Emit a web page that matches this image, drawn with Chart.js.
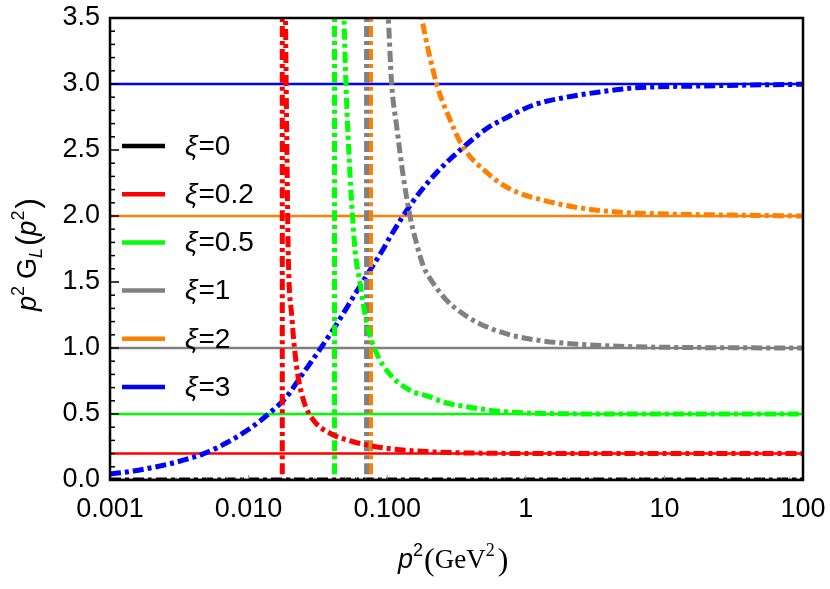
<!DOCTYPE html>
<html lang="en">
<head>
<meta charset="UTF-8">
<title>p2 GL(p2)</title>
<script src="https://cdn.jsdelivr.net/npm/chart.js"></script>
<style>
    html, body { margin: 0; padding: 0; background: #fff; }
    #wrap { width: 830px; height: 589px; }
</style>
</head>
<body>
<div id="wrap"><canvas id="chart" width="830" height="589"></canvas></div>
<script>
// gauge parameter values (asymptotes and legend)
const xiValues = [0, 0.2, 0.5, 1, 2, 3];
const xiLabels = ['0', '0.2', '0.5', '1', '2', '3'];
const xiColors = ['#000000', '#ff0000', '#00ff00', '#808080', '#ff8000', '#0000ff'];

const xTicks = [0.001, 0.01, 0.1, 1, 10, 100];
const xTickLabels = ['0.001', '0.010', '0.100', '1', '10', '100'];

// dash-dot curves: p^2 (GeV^2) against p^2 G_L
const zeroX = [0.001, 100];
const zeroY = [0, 0];

const redX = [0.0175, 0.0175, 0.01846, 0.0189, 0.0193, 0.0205, 0.0222, 0.0248, 0.0293, 0.0387, 0.0569, 0.0991, 0.193, 0.652, 3, 100];
const redY = [-1, 6, 3.5, 2.5, 1.74, 1.24, 0.86, 0.61, 0.455, 0.354, 0.29, 0.24, 0.215, 0.202, 0.2, 0.2];

const greenX = [0.0417, 0.0417, 0.0488, 0.0504, 0.054, 0.0562, 0.0586, 0.0637, 0.0711, 0.0839, 0.1047, 0.146, 0.204, 0.254, 0.375, 0.652, 1.5, 5, 100];
const greenY = [-1, 6, 3.5, 3.0, 2.3, 2.0, 1.74, 1.49, 1.19, 0.96, 0.8, 0.68, 0.63, 0.59, 0.555, 0.52, 0.503, 0.5, 0.5];

const grayX = [0.071, 0.071, 0.1018, 0.1077, 0.117, 0.1306, 0.146, 0.163, 0.1824, 0.215, 0.269, 0.375, 0.522, 0.769, 1.2, 1.97, 5.95, 18.1, 100];
const grayY = [-1, 6, 3.5, 3.0, 2.68, 2.30, 2.0, 1.79, 1.62, 1.49, 1.36, 1.24, 1.16, 1.10, 1.06, 1.035, 1.01, 1.003, 1.0];

const orangeX = [0.0758, 0.0758, 0.1775, 0.2276, 0.284, 0.354, 0.536, 0.652, 0.864, 1.33, 2.19, 4.55, 10.4, 31.3, 100];
const orangeY = [-1, 6, 3.5, 3.0, 2.73, 2.52, 2.32, 2.25, 2.18, 2.12, 2.07, 2.03, 2.015, 2.007, 2.0];

const blueX = [0.001, 0.00147, 0.0023, 0.00338, 0.00471, 0.00695, 0.0102, 0.01426, 0.0188, 0.0235, 0.0408, 0.0637, 0.0752, 0.0937, 0.1047, 0.1535, 0.2276, 0.354, 0.552, 0.652, 1.13, 1.97, 3.43, 5.97, 18.1, 60.8, 100];
const blueY = [0.045, 0.068, 0.106, 0.15, 0.198, 0.282, 0.39, 0.51, 0.63, 0.775, 1.14, 1.47, 1.59, 1.75, 1.84, 2.11, 2.33, 2.52, 2.68, 2.72, 2.84, 2.9, 2.94, 2.97, 2.985, 2.995, 2.998];

const curveX = [zeroX, redX, greenX, grayX, orangeX, blueX];
const curveY = [zeroY, redY, greenY, grayY, orangeY, blueY];

const SANS = '"Liberation Sans", Arial, sans-serif';
const SERIF = '"Liberation Serif", "Times New Roman", serif';

function pairs(xs, ys) {
    return xs.map((x, i) => ({ x: x, y: ys[i] }));
}

const datasets = [];
// dashed curves first in the list so they sit on top
curveX.forEach((xs, i) => {
    datasets.push({
        data: pairs(xs, curveY[i]),
        borderColor: xiColors[i],
        borderWidth: 5,
        borderDash: [11, 4, 4, 4],
        borderCapStyle: 'butt',
        pointRadius: 0,
        showLine: true,
        cubicInterpolationMode: 'monotone',
        clip: 0
    });
});
xiValues.forEach((v, i) => {
    datasets.push({
        data: pairs([0.001, 100], [v, v]),
        borderColor: xiColors[i],
        borderWidth: 2.5,
        pointRadius: 0,
        showLine: true,
        tension: 0
    });
});

function drawRich(ctx, parts, x, y) {
    let cx = x;
    parts.forEach(p => {
        ctx.font = p.f;
        ctx.fillText(p.t, cx, y + (p.dy || 0));
        cx += ctx.measureText(p.t).width + (p.gap || 0);
    });
}

const decor = {
    id: 'decor',
    afterDraw(chart) {
        const ctx = chart.ctx;
        const a = chart.chartArea;
        const ys = chart.scales.y, xs = chart.scales.x;
        ctx.save();

        // inward ticks on the left axis
        ctx.strokeStyle = '#000';
        ctx.lineWidth = 1.5;
        for (let k = 0; k <= 35; k++) {
            const py = ys.getPixelForValue(k / 10);
            const len = k % 5 === 0 ? 9 : 5;
            ctx.beginPath();
            ctx.moveTo(a.left, py);
            ctx.lineTo(a.left + len, py);
            ctx.stroke();
        }
        // faint ticks on the bottom axis
        ctx.strokeStyle = '#999';
        ctx.lineWidth = 1;
        for (let d = -3; d < 2; d++) {
            for (let m = 1; m <= 9; m++) {
                const v = m * Math.pow(10, d);
                const px = xs.getPixelForValue(v);
                ctx.beginPath();
                ctx.moveTo(px, a.bottom);
                ctx.lineTo(px, a.bottom - (m === 1 ? 5 : 3));
                ctx.stroke();
            }
        }

        // frame
        ctx.strokeStyle = '#000';
        ctx.lineWidth = 2.5;
        ctx.strokeRect(a.left, a.top, a.right - a.left, a.bottom - a.top);

        // legend
        ctx.fillStyle = '#000';
        ctx.textBaseline = 'middle';
        xiLabels.forEach((lab, i) => {
            const y = 146 + i * 48.2;
            ctx.strokeStyle = xiColors[i];
            ctx.lineWidth = 4.5;
            ctx.beginPath();
            ctx.moveTo(122, y);
            ctx.lineTo(165, y);
            ctx.stroke();
            drawRich(ctx, [
                { t: 'ξ', f: 'italic 28px ' + SANS, gap: 1 },
                { t: '=' + lab, f: '28px ' + SANS }
            ], 185, y + 1);
        });

        // axis titles
        ctx.textBaseline = 'alphabetic';
        ctx.save();
        ctx.translate(36, 311);
        ctx.rotate(-Math.PI / 2);
        drawRich(ctx, [
            { t: 'p', f: 'italic 27px ' + SANS },
            { t: '2', f: '18px ' + SANS, dy: -12, gap: 7 },
            { t: 'G', f: '27px ' + SANS },
            { t: 'L', f: 'italic 18px ' + SANS, dy: 6, gap: 2 },
            { t: '(', f: '31px ' + SANS, dy: 2 },
            { t: 'p', f: 'italic 27px ' + SANS },
            { t: '2', f: '18px ' + SANS, dy: -12, gap: 2 },
            { t: ')', f: '31px ' + SANS, dy: 2 }
        ], 0, 0);
        ctx.restore();

        drawRich(ctx, [
            { t: 'p', f: 'italic 27px ' + SANS },
            { t: '2', f: '18px ' + SANS, dy: -12, gap: 1 },
            { t: '(', f: '32px ' + SERIF, dy: 2 },
            { t: 'GeV', f: '27px ' + SERIF },
            { t: '2', f: '18px ' + SERIF, dy: -12, gap: 3 },
            { t: ')', f: '32px ' + SERIF, dy: 2 }
        ], 398, 568);

        ctx.restore();
    }
};

new Chart(document.getElementById('chart'), {
    type: 'scatter',
    data: { datasets: datasets },
    options: {
        responsive: false,
        animation: false,
        devicePixelRatio: 1,
        layout: { padding: { top: 18, right: 27, left: 0, bottom: 0 } },
        plugins: { legend: { display: false }, tooltip: { enabled: false } },
        scales: {
            x: {
                type: 'logarithmic',
                position: 'bottom',
                min: 0.001,
                max: 100,
                grid: { display: false, drawTicks: false },
                border: { display: false },
                afterBuildTicks: s => { s.ticks = xTicks.map(v => ({ value: v })); },
                afterFit: s => { s.height = 109; s.paddingLeft = 0; s.paddingRight = 0; },
                ticks: {
                    autoSkip: false,
                    maxRotation: 0,
                    padding: 13,
                    color: '#000',
                    font: { family: SANS, size: 27 },
                    callback: (v, i) => xTickLabels[i]
                }
            },
            y: {
                min: 0,
                max: 3.5,
                grid: { display: false, drawTicks: false },
                border: { display: false },
                afterFit: s => { s.width = 110; s.paddingTop = 0; s.paddingBottom = 0; },
                ticks: {
                    stepSize: 0.5,
                    padding: 10,
                    color: '#000',
                    font: { family: SANS, size: 27 },
                    callback: v => v.toFixed(1)
                }
            }
        }
    },
    plugins: [decor]
});
</script>
</body>
</html>
